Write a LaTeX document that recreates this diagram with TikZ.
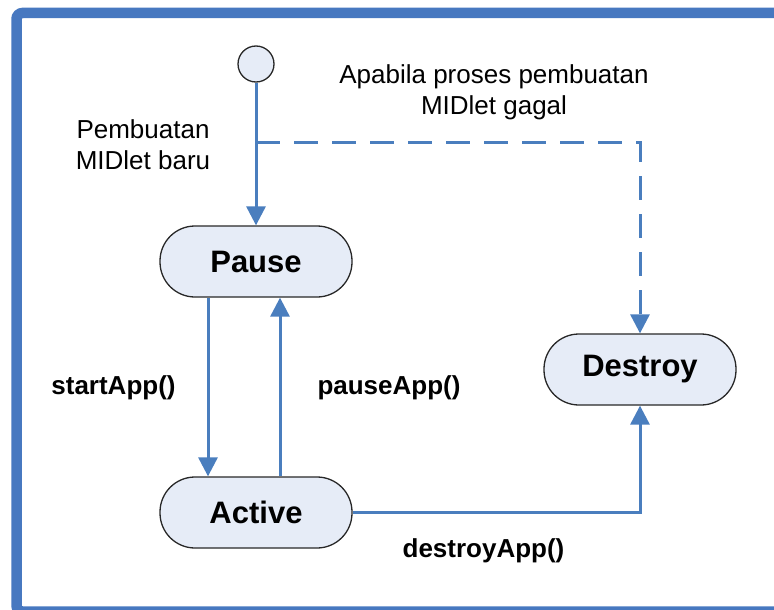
\documentclass[tikz,border=0pt]{standalone}
\usepackage{fontspec}
\setmainfont{Liberation Sans}
\usetikzlibrary{arrows.meta}

\definecolor{lineblue}{RGB}{74,126,190}
\definecolor{frameblue}{RGB}{71,120,192}
\definecolor{statefill}{RGB}{230,236,247}
\definecolor{outline}{RGB}{40,40,40}

\begin{document}
\begin{tikzpicture}[x=1pt,y=-1pt,
  flow/.style={line width=3pt, draw=lineblue,
    -{Triangle[width=19pt,length=19pt,fill=lineblue]}},
  dashflow/.style={flow, dash pattern=on 24pt off 14pt},
  statebox/.style={draw=outline, line width=1.3pt, fill=statefill,
    rounded corners=35pt, minimum width=192pt, minimum height=71pt,
    inner sep=0pt, font=\bfseries\fontsize{31}{37}\selectfont},
  startdot/.style={circle, draw=outline, line width=1.3pt, fill=statefill,
    minimum size=36pt, inner sep=0pt},
  note/.style={align=center, inner sep=0pt,
    font=\fontsize{26}{31}\selectfont},
  callname/.style={inner sep=0pt, font=\bfseries\fontsize{26}{31}\selectfont}
]
\useasboundingbox (0,0) rectangle (774,610);

% outer frame
\draw[frameblue, line width=10.5pt, rounded corners=6pt]
  (16.5,13) rectangle (790,611.5);

% states
\node[startdot] (init) at (256,64) {};
\node[statebox] (pause) at (256,261.5) {Pause};
\node[statebox] (active) at (256,512.5) {Active};
\node[statebox] (destroy) at (640,369.5) {Destroy};

% transitions
\draw[flow] (init) -- (pause);
\coordinate (fork) at (256,142);
\draw[dashflow] (fork) -| (destroy.north);
\draw[flow] ([xshift=-48pt]pause.south) -- ([xshift=-48pt]active.north);
\draw[flow] ([xshift=24pt]active.north) -- ([xshift=24pt]pause.south);
\draw[flow] (active.east) -| (destroy.south);

% labels
\node[note] (lblnew) at (143,145) {Pembuatan\\MIDlet baru};
\node[note] (lblfail) at (494,92) {Apabila proses pembuatan\\MIDlet gagal};
\node[callname] (lblstart) at (113.5,388) {startApp()};
\node[callname] (lblpause) at (389,388) {pauseApp()};
\node[callname] (lbldestroy) at (483.5,551) {destroyApp()};
\end{tikzpicture}
\end{document}
